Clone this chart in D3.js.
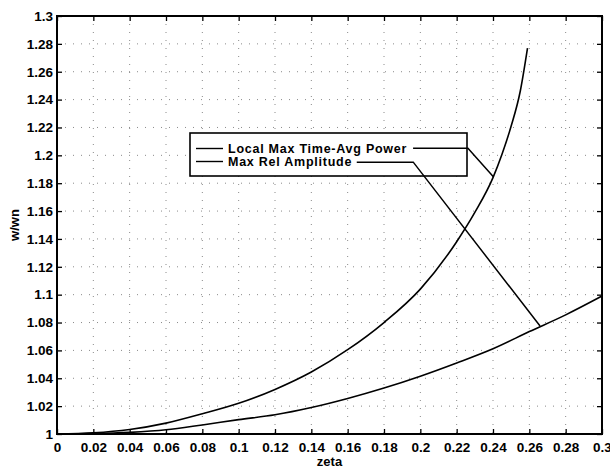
<!DOCTYPE html>
<html>
<head>
<meta charset="utf-8">
<script src="https://cdn.jsdelivr.net/npm/d3@7/dist/d3.min.js"></script>
<style>
  body { margin: 0; background: #fff; }
  svg { display: block; font-family: "Liberation Sans", Arial, sans-serif; }
</style>
</head>
<body>
<div id="chart"></div>
<script>
// Data (zeta vs w/wn)
const powerZeta = [0, 0.02, 0.04, 0.06, 0.08, 0.10, 0.12, 0.14, 0.16, 0.18, 0.20, 0.22, 0.23, 0.24, 0.245, 0.25, 0.255, 0.259];
const powerW    = [1.0, 1.0008, 1.0032, 1.0078, 1.0145, 1.022, 1.032, 1.0445, 1.0605, 1.080, 1.104, 1.138, 1.159, 1.184, 1.201, 1.221, 1.246, 1.277];

const ampZeta = [0, 0.02, 0.04, 0.06, 0.08, 0.10, 0.12, 0.14, 0.16, 0.18, 0.20, 0.22, 0.24, 0.26, 0.28, 0.30];
const ampW    = [1.0, 1.0003, 1.0012, 1.003, 1.0065, 1.0103, 1.0138, 1.019, 1.0255, 1.033, 1.0415, 1.051, 1.0612, 1.0735, 1.0855, 1.099];

const xTicks = [0, 0.02, 0.04, 0.06, 0.08, 0.1, 0.12, 0.14, 0.16, 0.18, 0.2, 0.22, 0.24, 0.26, 0.28, 0.3];
const yTicks = [1, 1.02, 1.04, 1.06, 1.08, 1.1, 1.12, 1.14, 1.16, 1.18, 1.2, 1.22, 1.24, 1.26, 1.28, 1.3];

const legendLabels = ["Local Max Time-Avg Power", "Max Rel Amplitude"];
// leader lines from legend text to the curves (data coordinates)
const leaderPower = [[0.196, 1.205], [0.2262, 1.205], [0.2402, 1.1847]];
const leaderAmp   = [[0.165, 1.1951], [0.1961, 1.1951], [0.2659, 1.0775]];

const width = 610, height = 471;
const margin = { top: 16, right: 8, bottom: 37, left: 57 };
const innerWidth = width - margin.left - margin.right;
const innerHeight = height - margin.top - margin.bottom;

const svg = d3.select("#chart").append("svg")
    .attr("width", width)
    .attr("height", height);

const g = svg.append("g")
    .attr("transform", `translate(${margin.left},${margin.top})`);

const x = d3.scaleLinear().domain([0, 0.3]).range([0, innerWidth]);
const y = d3.scaleLinear().domain([1, 1.3]).range([innerHeight, 0]);

// dotted grid
g.append("g").selectAll("line")
    .data(xTicks.slice(1, -1))
    .enter().append("line")
    .attr("x1", d => x(d)).attr("x2", d => x(d))
    .attr("y1", 0).attr("y2", innerHeight)
    .attr("stroke", "#8a8a8a").attr("stroke-width", 1)
    .attr("stroke-dasharray", "1,7");

g.append("g").selectAll("line")
    .data(yTicks.slice(1, -1))
    .enter().append("line")
    .attr("y1", d => y(d)).attr("y2", d => y(d))
    .attr("x1", 0).attr("x2", innerWidth)
    .attr("stroke", "#8a8a8a").attr("stroke-width", 1)
    .attr("stroke-dasharray", "1,7");

// axes with inward ticks
const fmt = d => d3.format("~g")(d);

g.append("g")
    .attr("transform", `translate(0,${innerHeight})`)
    .call(d3.axisBottom(x).tickValues(xTicks).tickFormat(fmt).tickSize(-5).tickPadding(8));

g.append("g")
    .call(d3.axisLeft(y).tickValues(yTicks).tickFormat(fmt).tickSize(-5).tickPadding(4));

g.append("g")
    .call(d3.axisTop(x).tickValues(xTicks).tickFormat("").tickSize(-5));

g.append("g")
    .attr("transform", `translate(${innerWidth},0)`)
    .call(d3.axisRight(y).tickValues(yTicks).tickFormat("").tickSize(-5));

g.selectAll(".domain").remove();
g.selectAll(".tick line").attr("stroke", "#000").attr("stroke-width", 1.3);
g.selectAll(".tick text")
    .attr("fill", "#000")
    .style("font-family", "'Liberation Sans', Arial, sans-serif")
    .style("font-size", "13.5px")
    .style("font-weight", "bold");

// frame
g.append("rect")
    .attr("width", innerWidth)
    .attr("height", innerHeight)
    .attr("fill", "none")
    .attr("stroke", "#000")
    .attr("stroke-width", 2);

// curves
const line = d3.line()
    .x(d => x(d[0]))
    .y(d => y(d[1]))
    .curve(d3.curveMonotoneX);

g.append("path")
    .datum(powerZeta.map((z, i) => [z, powerW[i]]))
    .attr("d", line)
    .attr("fill", "none")
    .attr("stroke", "#000")
    .attr("stroke-width", 1.6);

g.append("path")
    .datum(ampZeta.map((z, i) => [z, ampW[i]]))
    .attr("d", line)
    .attr("fill", "none")
    .attr("stroke", "#000")
    .attr("stroke-width", 1.6);

// legend box
const legend = svg.append("g").attr("transform", "translate(190,133)");
legend.append("rect")
    .attr("width", 277)
    .attr("height", 43)
    .attr("fill", "#fff")
    .attr("stroke", "#000")
    .attr("stroke-width", 1.6);

legendLabels.forEach((label, i) => {
    const ly = 15.5 + i * 13;
    legend.append("line")
        .attr("x1", 6).attr("x2", 33)
        .attr("y1", ly).attr("y2", ly)
        .attr("stroke", "#000").attr("stroke-width", 1.4);
    legend.append("text")
        .attr("x", 38)
        .attr("y", ly + 4)
        .style("font-size", "12.5px")
        .style("font-weight", "bold")
        .attr("letter-spacing", "0.75px")
        .text(label);
});

// leader lines, drawn over the legend box
const leaders = svg.append("g")
    .attr("transform", `translate(${margin.left},${margin.top})`);
const leader = d3.line().x(d => x(d[0])).y(d => y(d[1]));
[leaderPower, leaderAmp].forEach(pts => {
    leaders.append("path")
        .attr("d", leader(pts))
        .attr("fill", "none")
        .attr("stroke", "#000")
        .attr("stroke-width", 1.5);
});

// axis labels
svg.append("text")
    .attr("x", margin.left + innerWidth / 2)
    .attr("y", 466)
    .attr("text-anchor", "middle")
    .style("font-size", "13px")
    .style("font-weight", "bold")
    .text("zeta");

svg.append("text")
    .attr("transform", `translate(19,${margin.top + innerHeight / 2}) rotate(-90)`)
    .attr("text-anchor", "middle")
    .style("font-size", "13px")
    .style("font-weight", "bold")
    .text("w/wn");
</script>
</body>
</html>
